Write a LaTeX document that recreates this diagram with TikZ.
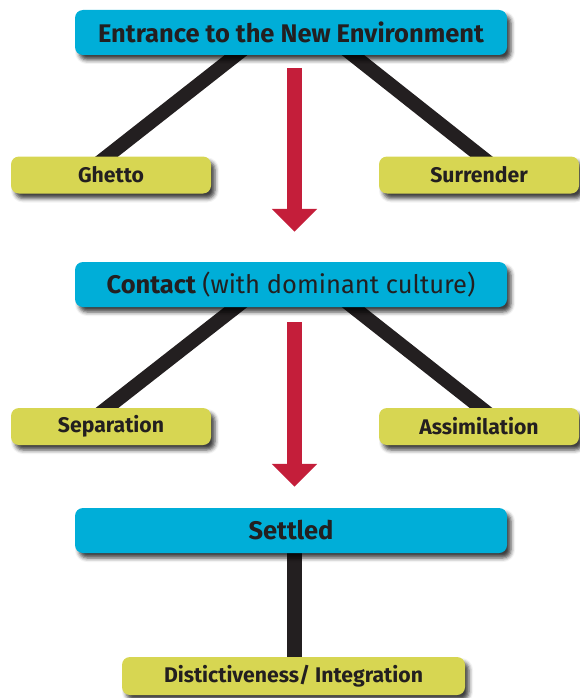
\documentclass[tikz,border=0pt]{standalone}
\usepackage{fontspec}
\setmainfont{Fira Sans}
\usetikzlibrary{arrows.meta,shadows.blur,backgrounds}
\definecolor{stageblue}{HTML}{00AED8}
\definecolor{pathgreen}{HTML}{D7D652}
\definecolor{flowred}{HTML}{C41E3A}
\definecolor{inkgray}{HTML}{231F20}
\begin{document}
\begin{tikzpicture}[x=1pt,y=-1pt,
  box/.style={rounded corners=8pt, inner sep=0pt, text=inkgray,
    blur shadow={shadow xshift=4pt, shadow yshift=-5pt, shadow blur radius=4pt, shadow opacity=75}},
  stage/.style={box, fill=stageblue, minimum width=432pt, minimum height=45pt, font=\fontsize{25.5}{29}\selectfont\bfseries},
  outcome/.style={box, fill=pathgreen, minimum width=200pt, minimum height=37pt, font=\fontsize{21.2}{25}\selectfont\bfseries},
  link/.style={draw=inkgray, line width=14pt},
  flow/.style={draw=flowred, line width=15pt, -{Triangle[width=44pt,length=23pt]}}]
\useasboundingbox (0,0) rectangle (579,698);

\node[stage] (entr) at (291,32.5){Entrance to the New Environment};
\node[outcome] (ghetto) at (111,175){Ghetto};
\node[outcome] (surr) at (479,175){Surrender};
\node[stage] (cont) at (291,284.5){\textbf{Contact} \textmd{(with dominant culture)}};
\node[outcome] (sep) at (111,426.5){Separation};
\node[outcome] (assim) at (479,426.5){Assimilation};
\node[stage] (settled) at (291,530.5){Settled};
\node[outcome, minimum width=343pt, minimum height=38pt] (dist) at (293.5,676){Distictiveness/ Integration};

\begin{scope}[on background layer]
\draw[link]([xshift=-42.4pt,yshift=10pt]entr.south) -- ([xshift=-16.6pt,yshift=-10pt]ghetto.north);
\draw[link]([xshift=49.5pt,yshift=10pt]entr.south) -- ([xshift=14.5pt,yshift=-10pt]surr.north);
\draw[link]([xshift=-42.4pt,yshift=10pt]cont.south) -- ([xshift=-16.6pt,yshift=-10pt]sep.north);
\draw[link]([xshift=49.5pt,yshift=10pt]cont.south) -- ([xshift=14.5pt,yshift=-10pt]assim.north);
\draw[link, line width=15pt]([xshift=3.5pt]settled.south) -- ([xshift=1pt]dist.north);
\end{scope}

\draw[flow]([xshift=3.5pt,yshift=-13pt]entr.south) -- ([xshift=3.5pt,yshift=30pt]cont.north);
\draw[flow]([xshift=3.5pt,yshift=-15pt]cont.south) -- ([xshift=3.5pt,yshift=21pt]settled.north);

\end{tikzpicture}
\end{document}
